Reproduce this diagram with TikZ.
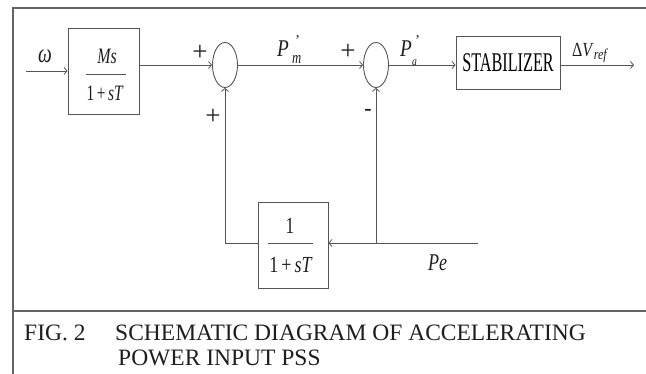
\documentclass[tikz,border=0pt]{standalone}
\usepackage{fontspec}
\setmainfont{Liberation Serif}
\usepackage{graphicx}
\usetikzlibrary{arrows.meta,shapes.geometric}
\definecolor{linegray}{RGB}{85,85,85}
\definecolor{framegray}{RGB}{100,100,100}
\definecolor{txtgray}{RGB}{30,30,30}
\newcommand\narrowtxt[2]{\scalebox{#1}[1]{#2}}
\newcommand\fsz[1]{\fontsize{#1}{#1}\selectfont}
\tikzset{
  wire/.style={draw=linegray, line width=0.9pt},
  tip/.style={-{Straight Barb[length=3pt,width=7pt,line width=0.8pt]}},
  blk/.style={draw=linegray, line width=0.9pt, rectangle, inner sep=0pt},
  sumj/.style={draw=linegray, line width=0.9pt, ellipse, minimum width=25pt, minimum height=45pt, inner sep=0pt},
  lbl/.style={inner sep=0pt, text=txtgray},
  frameline/.style={draw=framegray, line width=1.4pt},
  fracbar/.style={draw=linegray, line width=0.9pt}
}
\begin{document}
\begin{tikzpicture}[x=1pt,y=-1pt]
\useasboundingbox (0,0) rectangle (646,374);
% frame
\draw[frameline] (13,374) -- (13,8) -- (646,8);
\draw[frameline] (13,311) -- (646,311);

% blocks
\node[blk, minimum width=71pt, minimum height=86pt] (b1) at (103.5,71) {};
\node[lbl, anchor=base] (b1n) at (107,64) {\fsz{22}\narrowtxt{0.72}{\textit{Ms}}};
\node[lbl, anchor=base] (b1d) at (105,101) {\fsz{22}\narrowtxt{0.7}{1\,+\,\textit{sT}}};
\coordinate (b1l) at (86,74);
\coordinate (b1r) at (126,74);
\draw[fracbar] (b1l) -- (b1r);

\node[sumj] (s1) at (225,65) {};
\node[sumj] (s2) at (376,65) {};

\node[blk, minimum width=104pt, minimum height=53pt] (stab) at (508,62.5)
  {\fsz{27}\narrowtxt{0.6}{STABILIZER}};

\node[blk, minimum width=70pt, minimum height=86pt] (b2) at (293,245) {};
\node[lbl, anchor=base] (b2n) at (290,234) {\fsz{23}\narrowtxt{0.75}{1}};
\node[lbl, anchor=base] (b2d) at (291,273) {\fsz{23}\narrowtxt{0.78}{1\,+\,\textit{sT}}};
\coordinate (b2l) at (268,243);
\coordinate (b2r) at (313,243);
\draw[fracbar] (b2l) -- (b2r);

% labels
\node[lbl, anchor=base] (om) at (45,63) {\fsz{27}\narrowtxt{0.72}{\textit{ω}}};
\node[lbl] (p1) at (200,53) {\fsz{27}+};
\node[lbl] (p2) at (213,117) {\fsz{27}+};
\node[lbl] (p3) at (348,52) {\fsz{27}+};
\node[lbl] (m1) at (368,112) {\fsz{22}\textbf{-}};
\node[lbl, anchor=base west] (pm) at (277,57) {\fsz{24}\narrowtxt{0.8}{\textit{P}}};
\node[lbl, anchor=base west] (pmq) at (295,46) {\fsz{15}'};
\node[lbl, anchor=base west] (pms) at (292,64) {\fsz{17}\narrowtxt{0.75}{\textit{m}}};
\node[lbl, anchor=base west] (pa) at (400,57) {\fsz{24}\narrowtxt{0.8}{\textit{P}}};
\node[lbl, anchor=base west] (paq) at (415,46) {\fsz{15}'};
\node[lbl, anchor=base west] (pas) at (412,66) {\fsz{12}\narrowtxt{0.8}{\textit{a}}};
\node[lbl, anchor=base west] (dv) at (572,57) {\fsz{20}\narrowtxt{0.8}{Δ\textit{V}\raisebox{-3pt}{\fsz{15}\textit{ref}}}};
\node[lbl, anchor=base west] (pel) at (428,271) {\fsz{24}\narrowtxt{0.75}{\textit{Pe}}};

% connectors
\coordinate (in) at (26,71);
\coordinate (out) at (634,65);
\coordinate (pe) at (478,243);
\draw[wire,tip] (in) -- (b1.west |- in);
\draw[wire,tip] (b1.east |- s1.west) -- (s1.west);
\draw[wire,tip] (s1.east) -- (s2.west);
\draw[wire,tip] (s2.east) -- (s2.east -| stab.west);
\draw[wire,tip] (stab.east |- s2.east) -- (out);
\draw[wire,tip] (pe) -- (b2.east |- pe);
\draw[wire,tip] (s2.south |- pe) -- (s2.south);
\draw[wire,tip] (b2.west |- pe) -- (s1.south |- pe) -- (s1.south);

% caption
\node[lbl, anchor=base west] (c1) at (24,341) {\fsz{23.5}FIG. 2};
\node[lbl, anchor=base west] (c2) at (115,341) {\fsz{23.5}SCHEMATIC DIAGRAM OF ACCELERATING};
\node[lbl, anchor=base west] (c3) at (118,366) {\fsz{23.5}POWER INPUT PSS};
\end{tikzpicture}
\end{document}
